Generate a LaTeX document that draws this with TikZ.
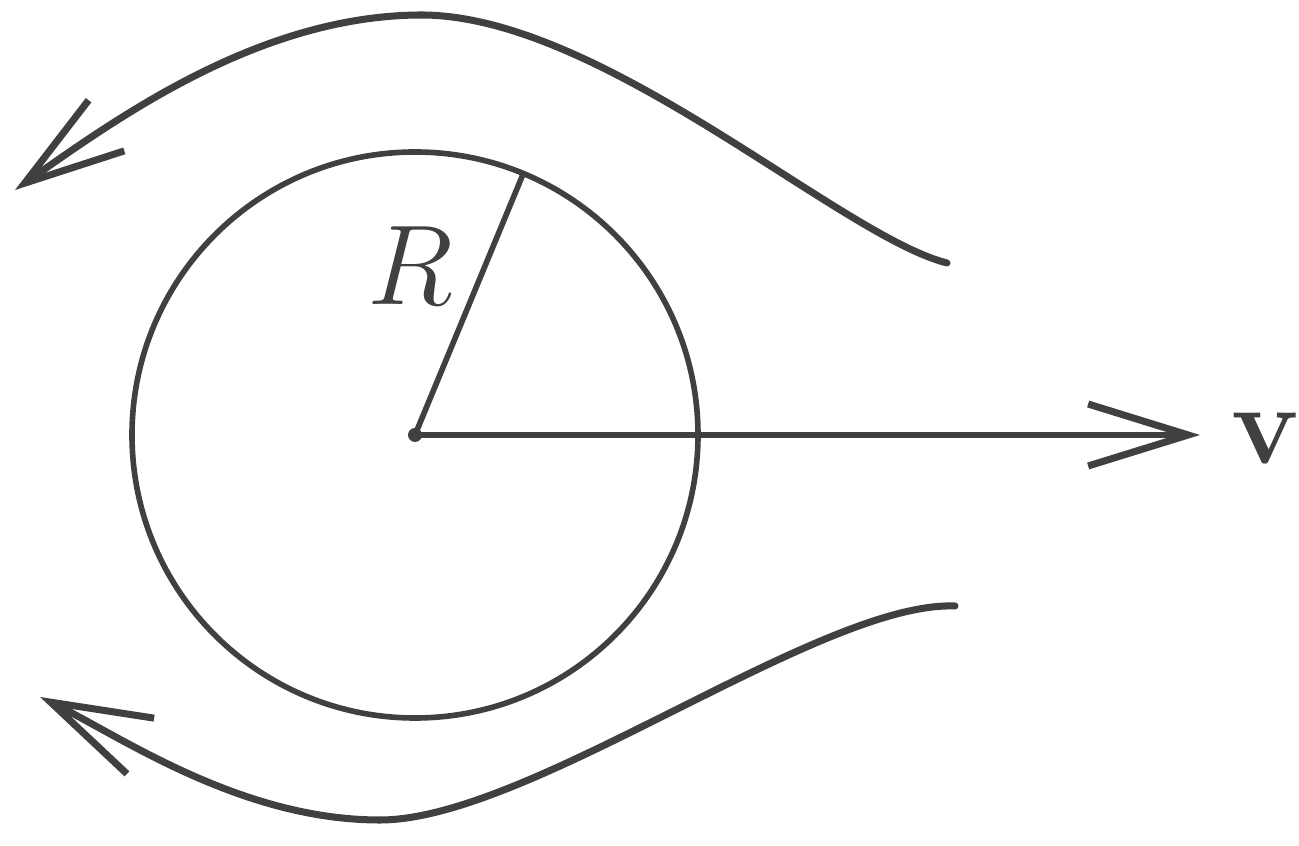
\documentclass[tikz,border=0pt]{standalone}
\usetikzlibrary{arrows.meta,calc}
\tikzset{
  flow/.style={line width=2pt, black!75, line cap=round,
    -{Straight Barb[length=10mm, width=6.2mm, line width=2pt]}},
  biglabel/.style={black!75, font=\Huge}
}
\newcommand{\bigsym}[1]{\scalebox{1.3}{#1}}
\begin{document}
\begin{tikzpicture}[>=stealth]

  % 枠の設定
  \useasboundingbox (0,0) rectangle (12.99,8.46);

  % 中心と半径
  \coordinate (O) at (4.15, 4.11);
  \coordinate (P) at ($(O)+(67.5:2.83)$);
  \coordinate (vtip) at (12.0, 4.11);

  % 円の描画
  \draw[line width=1.6pt, black!75] (O) circle (2.83);

  % 半径 R
  \draw[line width=1.6pt, black!75] (O) -- (P);
  \node[biglabel] (R) at (4.10, 5.80) {\bigsym{$R$}};

  % 速度 v の矢印
  \node[biglabel] (v) at (12.66, 4.08) {\bigsym{$\mathbf{v}$}};
  \draw[flow, line width=1.6pt] (O) -- (vtip);
  \fill[black!75] (O) circle (0.07);

  % 上側の流線
  \coordinate (U1) at (9.47, 5.83);
  \coordinate (U2) at (4.20, 8.31);
  \coordinate (U3) at (0.15, 6.56);
  \draw[flow] (U1) .. controls (8.4, 6.1) and (6.0, 8.32) .. (U2)
                   .. controls (2.6, 8.30) and (1.2, 7.30) .. (U3);

  % 下側の流線
  \coordinate (L1) at (9.55, 2.40);
  \coordinate (L2) at (3.80, 0.26);
  \coordinate (L3) at (0.40, 1.49);
  \draw[flow] (L1) .. controls (8.2, 2.45) and (5.3, 0.26) .. (L2)
                   .. controls (2.4, 0.26) and (1.2, 1.10) .. (L3);

\end{tikzpicture}
\end{document}
